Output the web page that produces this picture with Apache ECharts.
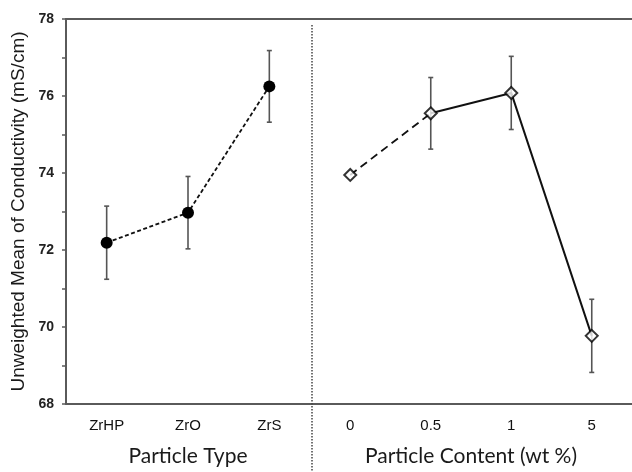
<!DOCTYPE html>
<html><head><meta charset="utf-8">
<script src="https://cdn.jsdelivr.net/npm/echarts@6/dist/echarts.min.js"></script>
<style>html,body{margin:0;padding:0;background:#fff}#c{width:632px;height:472px}</style>
</head><body><div id="c"></div>
<script>
const yTicks = [68, 70, 72, 74, 76, 78];
const typeCats = ['ZrHP', 'ZrO', 'ZrS'];
const typeMean = [72.19, 72.97, 76.25];
const typeErr = [0.95, 0.94, 0.93];
const contentCats = ['0', '0.5', '1', '5'];
const contentMean = [73.95, 75.55, 76.08, 69.77];
const contentErr = [null, 0.93, 0.95, 0.95];

const AX = '#5a5a5a';
const FONT = 'Liberation Sans, Arial, sans-serif';
const TFONT = 'Lato, sans-serif';

function errSeries(xi, means, errs) {
  const data = means.map((m, i) => errs[i] == null ? null : [i, m - errs[i], m + errs[i]]).filter(d => d);
  return {
    type: 'custom', xAxisIndex: xi, yAxisIndex: xi, z: 1,
    data: data,
    renderItem: function (params, api) {
      const x = api.value(0);
      const lo = api.coord([x, api.value(1)]);
      const hi = api.coord([x, api.value(2)]);
      const w = 2.5;
      const st = { stroke: '#555', lineWidth: 1.6 };
      return { type: 'group', children: [
        { type: 'line', shape: { x1: lo[0], y1: lo[1], x2: hi[0], y2: hi[1] }, style: st },
        { type: 'line', shape: { x1: lo[0] - w, y1: lo[1], x2: lo[0] + w, y2: lo[1] }, style: st },
        { type: 'line', shape: { x1: hi[0] - w, y1: hi[1], x2: hi[0] + w, y2: hi[1] }, style: st }
      ]};
    }
  };
}

const yMin = yTicks[0], yMax = yTicks[yTicks.length - 1];
function yAx(gi, show) {
  return {
    type: 'value', gridIndex: gi, min: yMin, max: yMax, interval: 2, show: show,
    name: gi === 0 ? 'Unweighted Mean of Conductivity (mS/cm)' : '',
    nameLocation: 'middle', nameGap: 38,
    nameTextStyle: { fontFamily: FONT, fontSize: 19, color: '#1a1a1a' },
    axisLine: { show: true, lineStyle: { color: AX, width: 2 } },
    axisTick: { show: true, inside: false, length: 4, lineStyle: { color: AX, width: 1.5 } },
    minorTick: { show: true, splitNumber: 2, length: 4, lineStyle: { color: AX, width: 1.5 } },
    axisLabel: { fontFamily: FONT, fontSize: 14, fontWeight: 'bold', color: '#222', margin: 12 },
    splitLine: { show: false }
  };
}
function xAx(gi, cats, name) {
  return {
    type: 'category', gridIndex: gi, data: cats, boundaryGap: true, position: 'bottom',
    name: name, nameLocation: 'middle', nameGap: 42,
    nameTextStyle: { fontFamily: TFONT, fontSize: 21, color: '#1a1a1a' },
    axisLine: { lineStyle: { color: AX, width: 2 } },
    axisTick: { alignWithLabel: true, length: 3, lineStyle: { color: AX, width: 1.5 } },
    axisLabel: { fontFamily: FONT, fontSize: 15, color: '#111', margin: 14 },
    splitLine: { show: false }
  };
}
function topAx(gi, cats) {
  return {
    type: 'category', gridIndex: gi, data: cats, position: 'top',
    axisLine: { lineStyle: { color: AX, width: 2 } },
    axisTick: { show: false }, axisLabel: { show: false }
  };
}

const rightDash = contentMean.map((v, i) => i <= 1 ? v : '-');
const rightSolid = contentMean.map((v, i) => i >= 1 ? v : '-');

const chart = echarts.init(document.getElementById('c'), null, { renderer: 'canvas' });
chart.setOption({
  animation: false,
  backgroundColor: '#fff',
  grid: [
    { left: 66, top: 19, width: 244, height: 387 },
    { left: 310, top: 19, width: 324, height: 387 }
  ],
  xAxis: [xAx(0, typeCats, 'Particle Type'), xAx(1, contentCats, 'Particle Content (wt %)'), topAx(0, typeCats), topAx(1, contentCats)],
  yAxis: [yAx(0, true), yAx(1, false)],
  graphic: [{
    type: 'line', shape: { x1: 312, y1: 25, x2: 312, y2: 472 },
    style: { stroke: '#444', lineWidth: 1.5, lineDash: [1.5, 1.5] }, z: 10
  }],
  series: [
    errSeries(0, typeMean, typeErr),
    errSeries(1, contentMean, contentErr),
    {
      type: 'line', xAxisIndex: 0, yAxisIndex: 0, data: typeMean, z: 3,
      symbol: 'circle', symbolSize: 12,
      itemStyle: { color: '#000' },
      lineStyle: { color: '#111', width: 1.8, type: [4, 2.5] }
    },
    {
      type: 'line', xAxisIndex: 1, yAxisIndex: 1, data: rightDash, z: 2, showSymbol: false,
      lineStyle: { color: '#111', width: 1.8, type: [8, 5] }
    },
    {
      type: 'line', xAxisIndex: 1, yAxisIndex: 1, data: rightSolid, z: 2, showSymbol: false,
      lineStyle: { color: '#111', width: 2 }
    },
    {
      type: 'scatter', xAxisIndex: 1, yAxisIndex: 1, data: contentMean, z: 4,
      symbol: 'diamond', symbolSize: [12, 12],
      itemStyle: { color: '#fff', borderColor: '#000', borderWidth: 2 }
    }
  ]
});
</script></body></html>
